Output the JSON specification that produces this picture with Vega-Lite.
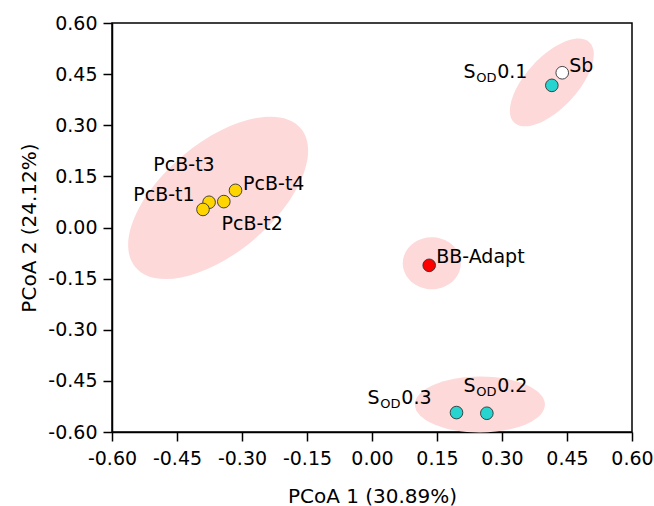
{
  "$schema": "https://vega.github.io/schema/vega-lite/v6.json",
  "width": 520,
  "height": 409,
  "autosize": {"type": "none"},
  "padding": {"left": 112, "top": 23, "right": 22, "bottom": 74},
  "background": "white",
  "config": {
    "view": {"stroke": "black", "strokeWidth": 1.5},
    "axis": {
      "grid": false,
      "domainColor": "black",
      "domainWidth": 1.5,
      "tickColor": "black",
      "tickWidth": 1.5,
      "tickSize": 9,
      "labelFont": "DejaVu Sans",
      "labelFontSize": 19,
      "labelColor": "black",
      "titleFont": "DejaVu Sans",
      "titleFontSize": 20,
      "titleFontWeight": "normal",
      "titleColor": "black"
    },
    "text": {"font": "DejaVu Sans", "fontSize": 19, "color": "black", "baseline": "middle", "align": "left"}
  },
  "datasets": {
    "pts": [
      {"sample": "PcB-t3", "group": "PcB", "x": -0.376, "y": 0.074},
      {"sample": "PcB-t1", "group": "PcB", "x": -0.39, "y": 0.053},
      {"sample": "PcB-t2", "group": "PcB", "x": -0.342, "y": 0.076},
      {"sample": "PcB-t4", "group": "PcB", "x": -0.315, "y": 0.109},
      {"sample": "Sb", "group": "Sb", "x": 0.439, "y": 0.454},
      {"sample": "SOD0.1", "group": "SOD", "x": 0.415, "y": 0.417},
      {"sample": "BB-Adapt", "group": "BB", "x": 0.132, "y": -0.111},
      {"sample": "SOD0.3", "group": "SOD", "x": 0.195, "y": -0.543},
      {"sample": "SOD0.2", "group": "SOD", "x": 0.265, "y": -0.545}
    ],
    "ell": [
      {"cluster": "PcB", "x": -0.355, "y": 0.087},
      {"cluster": "Sb", "x": 0.415, "y": 0.4255},
      {"cluster": "BB", "x": 0.138, "y": -0.105},
      {"cluster": "SOD", "x": 0.249, "y": -0.519}
    ]
  },
  "encoding": {
    "x": {"field": "x", "type": "quantitative",
      "scale": {"domain": [-0.6, 0.6], "nice": false, "zero": false},
      "axis": {"title": "PCoA 1 (30.89%)", "values": [-0.6, -0.45, -0.3, -0.15, 0, 0.15, 0.3, 0.45, 0.6], "format": ".2f", "labelExpr": "replace(datum.label, '\u2212', '-')", "labelPadding": 8, "titlePadding": 18, "labelFlush": false}},
    "y": {"field": "y", "type": "quantitative",
      "scale": {"domain": [-0.6, 0.6], "nice": false, "zero": false},
      "axis": {"title": "PCoA 2 (24.12%)", "values": [-0.6, -0.45, -0.3, -0.15, 0, 0.15, 0.3, 0.45, 0.6], "format": ".2f", "labelExpr": "replace(datum.label, '\u2212', '-')", "labelPadding": 6, "titlePadding": 8, "labelFlush": false}}
  },
  "layer": [
    {"data": {"name": "ell"}, "transform": [{"filter": "datum.cluster == 'PcB'"}],
     "mark": {"type": "point", "filled": true, "fill": "#fdd9d9", "opacity": 1, "strokeWidth": 0, "size": 46656, "angle": 320,
       "shape": "M-1,0C-1,-0.281,-0.552,-0.509,0,-0.509C0.552,-0.509,1,-0.281,1,0C1,0.281,0.552,0.509,0,0.509C-0.552,0.509,-1,0.281,-1,0Z"}},
    {"data": {"name": "ell"}, "transform": [{"filter": "datum.cluster == 'Sb'"}],
     "mark": {"type": "point", "filled": true, "fill": "#fdd9d9", "opacity": 1, "strokeWidth": 0, "size": 12100, "angle": 313,
       "shape": "M-1,0C-1,-0.258,-0.552,-0.467,0,-0.467C0.552,-0.467,1,-0.258,1,0C1,0.258,0.552,0.467,0,0.467C-0.552,0.467,-1,0.258,-1,0Z"}},
    {"data": {"name": "ell"}, "transform": [{"filter": "datum.cluster == 'BB'"}],
     "mark": {"type": "point", "filled": true, "fill": "#fdd9d9", "opacity": 1, "strokeWidth": 0, "size": 3364, "angle": 0,
       "shape": "M-1,0C-1,-0.495,-0.552,-0.897,0,-0.897C0.552,-0.897,1,-0.495,1,0C1,0.495,0.552,0.897,0,0.897C-0.552,0.897,-1,0.495,-1,0Z"}},
    {"data": {"name": "ell"}, "transform": [{"filter": "datum.cluster == 'SOD'"}],
     "mark": {"type": "point", "filled": true, "fill": "#fdd9d9", "opacity": 1, "strokeWidth": 0, "size": 16900, "angle": 0,
       "shape": "M-1,0C-1,-0.238,-0.552,-0.431,0,-0.431C0.552,-0.431,1,-0.238,1,0C1,0.238,0.552,0.431,0,0.431C-0.552,0.431,-1,0.238,-1,0Z"}},
    {"data": {"name": "pts"},
     "mark": {"type": "circle", "size": 160, "opacity": 1, "stroke": "#333333", "strokeWidth": 0.9},
     "encoding": {"fill": {"field": "group", "type": "nominal", "legend": null,
        "scale": {"domain": ["PcB", "Sb", "SOD", "BB"], "range": ["#ffd500", "#ffffff", "#26d4d0", "#ff0000"]}}}},
    {"data": {"name": "pts"}, "transform": [{"filter": "datum.sample == 'PcB-t3'"}],
     "mark": {"type": "text", "dx": -55.7, "dy": -37.7}, "encoding": {"text": {"field": "sample"}}},
    {"data": {"name": "pts"}, "transform": [{"filter": "datum.sample == 'PcB-t1'"}],
     "mark": {"type": "text", "dx": -69.7, "dy": -14}, "encoding": {"text": {"field": "sample"}}},
    {"data": {"name": "pts"}, "transform": [{"filter": "datum.sample == 'PcB-t4'"}],
     "mark": {"type": "text", "dx": 7.6, "dy": -6.2}, "encoding": {"text": {"field": "sample"}}},
    {"data": {"name": "pts"}, "transform": [{"filter": "datum.sample == 'PcB-t2'"}],
     "mark": {"type": "text", "dx": -2.3, "dy": 22.5}, "encoding": {"text": {"field": "sample"}}},
    {"data": {"name": "pts"}, "transform": [{"filter": "datum.sample == 'Sb'"}],
     "mark": {"type": "text", "dx": 7, "dy": -6.8}, "encoding": {"text": {"field": "sample"}}},
    {"data": {"name": "pts"}, "transform": [{"filter": "datum.sample == 'BB-Adapt'"}],
     "mark": {"type": "text", "dx": 7, "dy": -8.2}, "encoding": {"text": {"field": "sample"}}},
    {"data": {"name": "pts"}, "transform": [{"filter": "datum.sample == 'SOD0.1'"}],
     "mark": {"type": "text", "dx": -88.4, "dy": -13.7, "text": "S"}},
    {"data": {"name": "pts"}, "transform": [{"filter": "datum.sample == 'SOD0.1'"}],
     "mark": {"type": "text", "dx": -75.6, "dy": -7.7, "fontSize": 13, "text": "OD"}},
    {"data": {"name": "pts"}, "transform": [{"filter": "datum.sample == 'SOD0.1'"}],
     "mark": {"type": "text", "dx": -54.6, "dy": -13.7, "text": "0.1"}},
    {"data": {"name": "pts"}, "transform": [{"filter": "datum.sample == 'SOD0.3'"}],
     "mark": {"type": "text", "dx": -89, "dy": -14.3, "text": "S"}},
    {"data": {"name": "pts"}, "transform": [{"filter": "datum.sample == 'SOD0.3'"}],
     "mark": {"type": "text", "dx": -76.2, "dy": -8.3, "fontSize": 13, "text": "OD"}},
    {"data": {"name": "pts"}, "transform": [{"filter": "datum.sample == 'SOD0.3'"}],
     "mark": {"type": "text", "dx": -55.2, "dy": -14.3, "text": "0.3"}},
    {"data": {"name": "pts"}, "transform": [{"filter": "datum.sample == 'SOD0.2'"}],
     "mark": {"type": "text", "dx": -23.4, "dy": -27.5, "text": "S"}},
    {"data": {"name": "pts"}, "transform": [{"filter": "datum.sample == 'SOD0.2'"}],
     "mark": {"type": "text", "dx": -10.6, "dy": -21.5, "fontSize": 13, "text": "OD"}},
    {"data": {"name": "pts"}, "transform": [{"filter": "datum.sample == 'SOD0.2'"}],
     "mark": {"type": "text", "dx": 10.4, "dy": -27.5, "text": "0.2"}}
  ]
}
